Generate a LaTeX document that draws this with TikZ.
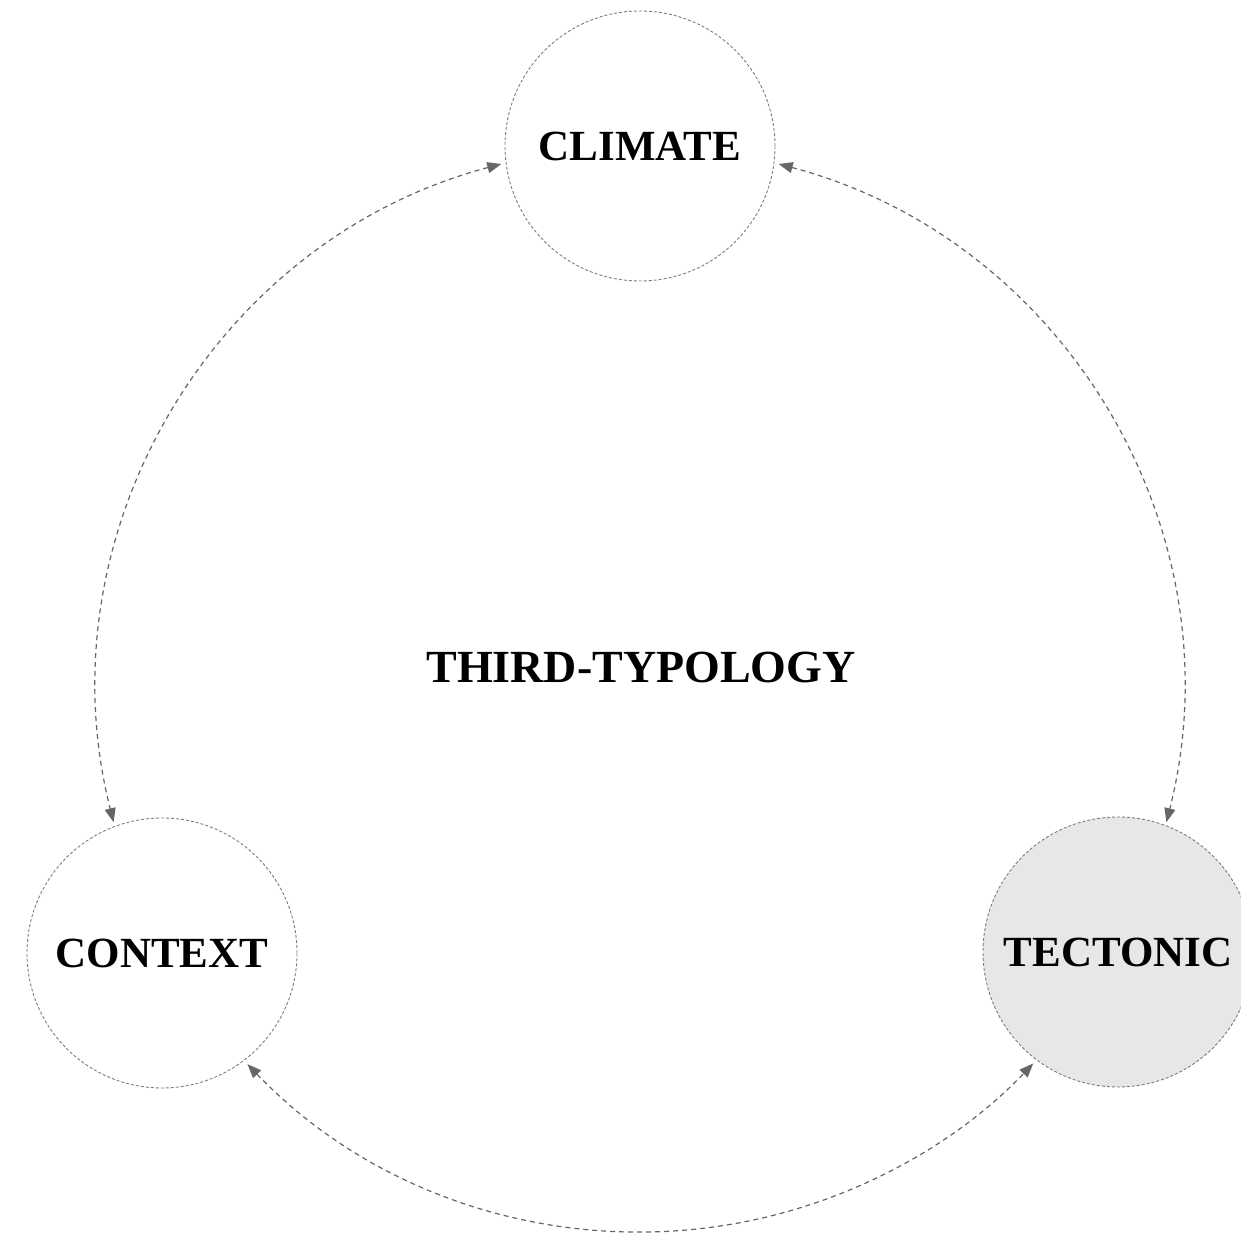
\documentclass[tikz,border=0pt]{standalone}
\usepackage{fontspec}
\setmainfont{Liberation Serif}
\usetikzlibrary{arrows.meta,calc}
\definecolor{linegray}{HTML}{666666}
\definecolor{circgray}{HTML}{7C7C7C}
\definecolor{tecfill}{HTML}{E6E7E8}
\begin{document}
\begin{tikzpicture}[x=1pt,y=1pt,
  topic/.style={circle, draw=circgray, line width=0.9pt, dash pattern=on 3pt off 2pt,
    minimum size=270pt, inner sep=0pt, font=\fontsize{43}{52}\bfseries\selectfont},
  link/.style={draw=linegray, line width=1.2pt, dash pattern=on 5pt off 4pt,
    {Triangle[length=14pt,width=11pt]}-{Triangle[length=14pt,width=11pt]}},
  title/.style={font=\fontsize{46}{54}\bfseries\selectfont}]
\useasboundingbox (0,0) rectangle (1241,1236);
\coordinate (C) at (640,547);
\def\R{543}
\node[topic] (climate) at (640,1090) {CLIMATE};
\node[topic] (context) at (162,283) {CONTEXT};
\node[topic, fill=tecfill] (tectonic) at (1118,284) {TECTONIC};
\node[title] (third) at (641,568) {THIRD-TYPOLOGY};
% arc end points (named)
\coordinate (climL) at ($(C)+(104.8:\R)$);
\coordinate (climR) at ($(C)+(75.2:\R)$);
\coordinate (contB) at ($(C)+(223.7:\R)$);
\draw[link] (climL) arc[start angle=104.8, end angle=194.2, radius=\R];
\draw[link] (climR) arc[start angle=75.2, end angle=-14.2, radius=\R];
\draw[link] (contB) arc[start angle=223.7, end angle=316.4, radius=\R];
\end{tikzpicture}
\end{document}
